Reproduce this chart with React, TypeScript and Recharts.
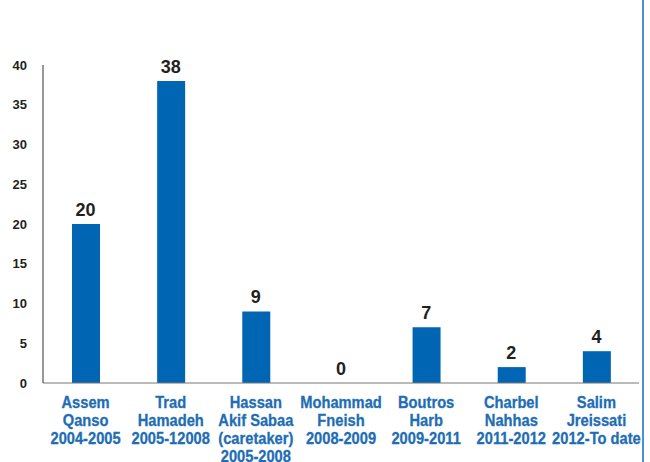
import React from "react";
import { ComposedChart, Bar, Line, XAxis, YAxis, LabelList } from "recharts";

const categories = [
  "Assem Qanso 2004-2005",
  "Trad Hamadeh 2005-12008",
  "Hassan Akif Sabaa (caretaker) 2005-2008",
  "Mohammad Fneish 2008-2009",
  "Boutros Harb 2009-2011",
  "Charbel Nahhas 2011-2012",
  "Salim Jreissati 2012-To date",
];
const labelLines: string[][] = [
  ["Assem", "Qanso", "2004-2005"],
  ["Trad", "Hamadeh", "2005-12008"],
  ["Hassan", "Akif Sabaa", "(caretaker)", "2005-2008"],
  ["Mohammad", "Fneish", "2008-2009"],
  ["Boutros", "Harb", "2009-2011"],
  ["Charbel", "Nahhas", "2011-2012"],
  ["Salim", "Jreissati", "2012-To date"],
];
const values = [20, 38, 9, 0, 7, 2, 4];
const yTicks = [0, 5, 10, 15, 20, 25, 30, 35, 40];

const data = categories.map((c, i) => ({ name: c, value: values[i], idx: i }));

const BLUE = "#0066b3";
const LABEL_BLUE = "#1e6db5";

const CatTick = (props: any) => {
  const { x, y, index } = props;
  const lines = labelLines[index] || [];
  return (
    <g transform={`translate(${x},${y}) scale(0.89,1)`}>
      <text
        textAnchor="middle"
        fill={LABEL_BLUE}
        stroke={LABEL_BLUE}
        strokeWidth={0.3}
        fontFamily="'Liberation Sans', Arial, sans-serif"
        fontWeight="bold"
        fontSize={16.5}
      >
        {lines.map((l, i) => (
          <tspan key={i} x={0} y={17 + i * 18}>
            {l}
          </tspan>
        ))}
      </text>
    </g>
  );
};

export default function App() {
  return (
    <div style={{ position: "absolute", left: 0, top: 0, width: 650, height: 462, background: "#fff" }}>
      <ComposedChart
        width={650}
        height={462}
        data={data}
        margin={{ top: 65, right: 11, bottom: 0, left: 0 }}
        barCategoryGap={0}
      >
        <XAxis
          dataKey="name"
          interval={0}
          tickLine={false}
          axisLine={{ stroke: "#777", strokeWidth: 1 }}
          height={79}
          tick={<CatTick />}
        />
        <YAxis
          domain={[0, 40]}
          ticks={yTicks}
          width={43}
          tickLine={false}
          tickMargin={10}
          axisLine={{ stroke: "#333", strokeWidth: 1 }}
          tick={{ fill: "#231f20", fontSize: 13, fontWeight: "bold", fontFamily: "'Liberation Sans', Arial, sans-serif" }}
        />
        <Bar dataKey="value" fill={BLUE} barSize={28} isAnimationActive={false} />
        <Line
          dataKey="value"
          stroke="none"
          dot={false}
          activeDot={false}
          isAnimationActive={false}
        >
          <LabelList
            dataKey="value"
            position="top"
            offset={8}
            fill="#231f20"
            fontSize={18}
            fontWeight="bold"
            fontFamily="'Liberation Sans', Arial, sans-serif"
          />
        </Line>
      </ComposedChart>
      <div
        style={{
          position: "absolute",
          left: 642,
          top: 0,
          width: 2,
          height: 462,
          background: "#4a8fd0",
        }}
      />
    </div>
  );
}
